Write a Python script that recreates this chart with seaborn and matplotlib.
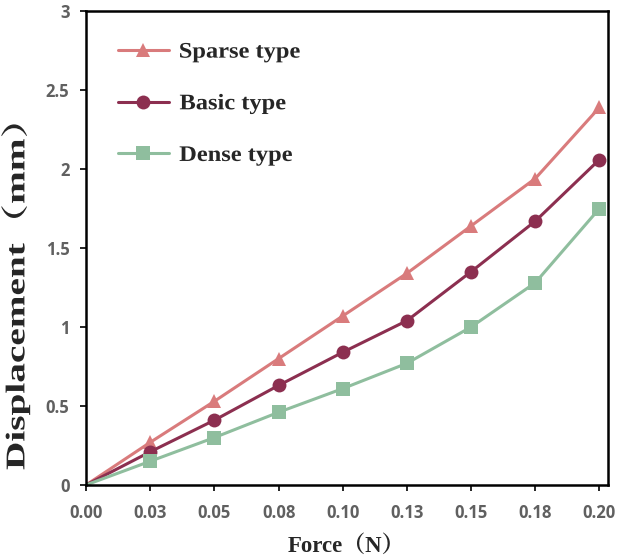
import numpy as np
import pandas as pd
import matplotlib
matplotlib.use('Agg')
import matplotlib.pyplot as plt
from matplotlib.patheffects import AbstractPathEffect
from matplotlib.transforms import Affine2D
import seaborn as sns

# Data
force = [0.0, 0.025, 0.05, 0.075, 0.10, 0.125, 0.15, 0.175, 0.20]
force_labels = ['0.00', '0.03', '0.05', '0.08', '0.10', '0.13', '0.15', '0.18', '0.20']
sparse = [0, 0.27, 0.53, 0.80, 1.07, 1.34, 1.64, 1.94, 2.39]
basic = [0, 0.21, 0.41, 0.63, 0.84, 1.04, 1.35, 1.67, 2.06]
dense = [0, 0.15, 0.30, 0.46, 0.61, 0.77, 1.00, 1.28, 1.75]
names = ['Sparse type', 'Basic type', 'Dense type']

df = pd.DataFrame({
    'force': force * 3,
    'disp': sparse + basic + dense,
    'type': [names[0]] * 9 + [names[1]] * 9 + [names[2]] * 9,
})


class Stretch(AbstractPathEffect):
    # stretches the text along its baseline (the reference label is elongated)
    def __init__(self, sx):
        super().__init__()
        self.sx = sx

    def draw_path(self, renderer, gc, tpath, affine, rgbFace=None):
        ext = tpath.get_extents()
        cx = (ext.x0 + ext.x1) / 2
        a = Affine2D().translate(-cx, 0).scale(self.sx, 1).translate(cx, 0) + affine
        renderer.draw_path(gc, tpath, a, rgbFace)


sns.set_style('white')
colors = {'Sparse type': '#D97B7C', 'Basic type': '#8C2F50', 'Dense type': '#8FBE9E'}
markers = {'Sparse type': '^', 'Basic type': 'o', 'Dense type': 's'}

fig = plt.figure(figsize=(6.2, 5.58), dpi=100)
ax = fig.add_axes([0.139, 0.131, 0.841, 0.849])

sns.lineplot(data=df, x='force', y='disp', hue='type', style='type',
             palette=colors, markers=markers, dashes=False,
             linewidth=2.2, markersize=10, markeredgewidth=0, ax=ax)

ax.set_xlim(0, 0.2032)
ax.set_ylim(0, 3)
ax.set_xticks(force)
ax.set_xticklabels(force_labels)
ax.set_yticks([0, 0.5, 1, 1.5, 2, 2.5, 3])
ax.set_yticklabels(['0', '0.5', '1', '1.5', '2', '2.5', '3'])

for lab in ax.get_xticklabels() + ax.get_yticklabels():
    lab.set_fontfamily('Open Sans')
    lab.set_fontweight('bold')
    lab.set_color('#606060')
    lab.set_fontsize(12)

ax.tick_params(axis='x', direction='out', length=4, width=1.2, color='black',
               bottom=True, pad=10)
ax.tick_params(axis='y', direction='out', length=4, width=1.2, color='black',
               left=True, pad=8)

for s in ax.spines.values():
    s.set_color('black')
    s.set_linewidth(1.8)

label_font = ['Liberation Serif', 'Noto Serif CJK SC', 'Noto Sans CJK SC']
ax.set_xlabel('Force（N）', family=label_font, fontweight='bold', fontsize=16.5, labelpad=9)
ax.set_ylabel('Displacement（mm）', family=label_font, fontweight='bold', fontsize=19.5,
              path_effects=[Stretch(1.45)])
ax.yaxis.set_label_coords(-0.107, 0.415)

leg = ax.legend(loc='upper left', bbox_to_anchor=(0.022, 0.977), frameon=False,
                labelspacing=1.4, handlelength=2.3, handletextpad=0.7,
                prop={'family': 'Liberation Serif', 'weight': 'bold', 'size': 16})
for t in leg.get_texts():
    t.set_path_effects([Stretch(1.1)])

# no marker at the origin point
for line in ax.lines:
    line.set_markevery(slice(1, None))

fig.savefig('out.png', dpi=100)
